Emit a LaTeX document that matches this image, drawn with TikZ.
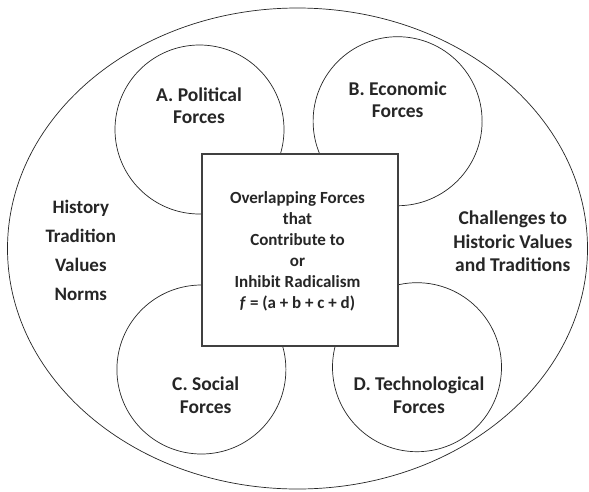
\documentclass[tikz,border=0pt]{standalone}
\usepackage{fontspec}
\setmainfont{Carlito}
\usetikzlibrary{shapes.geometric}
\begin{document}
\begin{tikzpicture}[x=1pt,y=-1pt,
  outline/.style={draw=black!85, line width=0.7pt},
  force/.style={outline, circle, fill=white, minimum size=169pt, inner sep=0pt},
  core/.style={draw=black!75, line width=1.1pt, fill=white, minimum width=196pt, minimum height=192pt, inner sep=0pt},
  label/.style={font=\bfseries\fontsize{19.5}{22.5}\selectfont, text=black!85, align=center, inner sep=0pt},
  sidetext/.style={font=\bfseries\fontsize{19}{29}\selectfont, text=black!85, align=center, inner sep=0pt},
  coretext/.style={font=\bfseries\fontsize{17}{21}\selectfont, text=black!85, align=center, inner sep=0pt}]
\useasboundingbox (0,0) rectangle (589,491);
\fill[white] (0,0) rectangle (589,491);
% outer context
\node[outline, ellipse, minimum width=580pt, minimum height=481pt, inner sep=0pt] (context) at (297.5,248.5) {};
% the four forces
\node[force] (pol) at (199.5,129.5) {};
\node[force] (eco) at (397.6,121.2) {};
\node[force] (soc) at (201.4,369.5) {};
\node[force] (tec) at (417.0,367.2) {};
% central box
\node[core] (box) at (300,250) {};
\node[coretext] (boxtext) at (297.5,251.5) {Overlapping Forces\\that\\Contribute to\\or\\Inhibit Radicalism\\\textit{f} = (a + b + c + d)};
% circle captions
\node[label] (poltext) at (199,105.5) {A. Political\\Forces};
\node[label] (ecotext) at (397.7,99.6) {B. Economic\\Forces};
\node[label] (soctext) at (205.7,395.3) {C. Social\\Forces};
\node[label] (tectext) at (419,395) {D. Technological\\Forces};
% side texts
\node[sidetext] (left) at (80.8,250.5) {History\\Tradition\\Values\\Norms};
\node[label, font=\bfseries\fontsize{19.5}{23.5}\selectfont] (right) at (512.8,241.5) {Challenges to\\Historic Values\\and Traditions};
\end{tikzpicture}
\end{document}
